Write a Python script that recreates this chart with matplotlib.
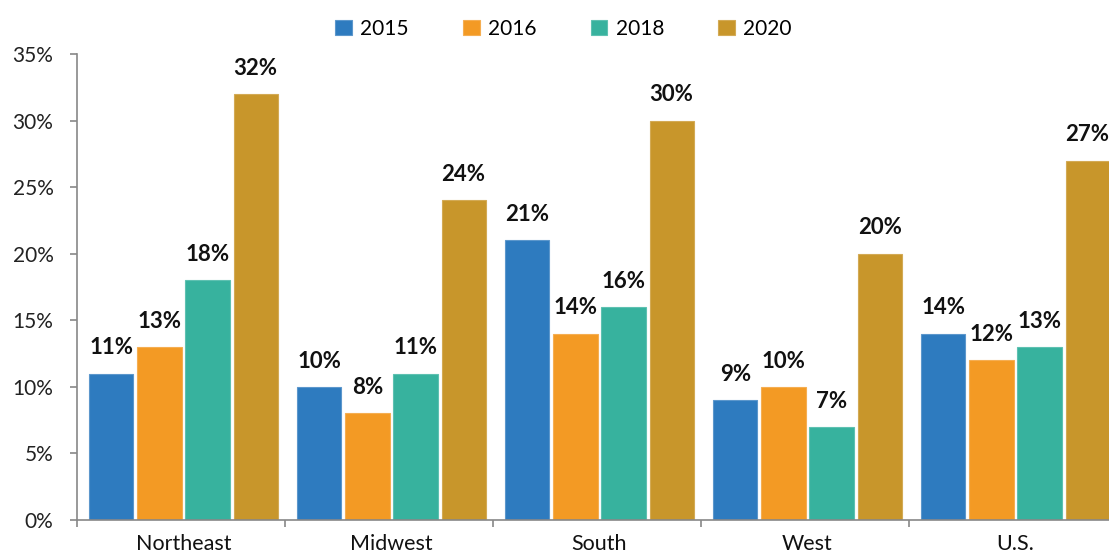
import matplotlib
matplotlib.use("Agg")
import matplotlib.pyplot as plt
import numpy as np

categories = ["Northeast", "Midwest", "South", "West", "U.S."]
years = ["2015", "2016", "2018", "2020"]
v2015 = [11, 10, 21, 9, 14]
v2016 = [13, 8, 14, 10, 12]
v2018 = [18, 11, 16, 7, 13]
v2020 = [32, 24, 30, 20, 27]
yticks = [0, 5, 10, 15, 20, 25, 30, 35]

series = [v2015, v2016, v2018, v2020]
colors = ["#2E7BBF", "#F39A24", "#37B29E", "#C8962B"]
edges = ["#5C97CC", "#F5AE52", "#5EC1B1", "#D3AA55"]

plt.rcParams['font.family'] = ['Lato', 'DejaVu Sans']

fig = plt.figure(figsize=(11.09, 5.56), dpi=100)
ax = fig.add_axes([77/1109, 36/556, 1040/1109, 466/556])

x = np.arange(len(categories))
step = 0.231
width = 0.212
shift = 0.012
for j, (vals, c, ec, yr) in enumerate(zip(series, colors, edges, years)):
    pos = x + (j - 1.5) * step + shift
    bars = ax.bar(pos, vals, width, color=c, edgecolor=ec, linewidth=0.8, label=yr)
    for b, v in zip(bars, vals):
        ax.annotate(f"{v}%", (b.get_x() + b.get_width()/2, v),
                    xytext=(0, 11), textcoords="offset points",
                    ha="center", va="bottom", fontsize=16, fontweight="bold",
                    color="#111111")

ax.set_xlim(-0.5, len(categories) - 0.5)
ax.set_ylim(0, 35)
ax.set_yticks(yticks)
ax.set_yticklabels([f"{t}%" for t in yticks], fontsize=15, color="#222222")
ax.set_xticks(np.arange(len(categories) + 1) - 0.5)
ax.set_xticklabels([])
ax.set_xticks(x + shift, minor=True)
ax.set_xticklabels(categories, minor=True, fontsize=15.5, color="#111111")
ax.tick_params(axis='x', which='minor', length=0, pad=10)
ax.tick_params(axis='x', which='major', length=5, color="#888888", width=1.2)
ax.tick_params(axis='y', length=5, color="#888888", width=1.2, pad=12)

for s in ["top", "right"]:
    ax.spines[s].set_visible(False)
for s in ["left", "bottom"]:
    ax.spines[s].set_color("#888888")
    ax.spines[s].set_linewidth(1.2)

leg = fig.legend(loc="upper center", bbox_to_anchor=(0.508, 1.0), ncol=4,
                 frameon=False, fontsize=15, handlelength=0.8, handleheight=0.8,
                 handletextpad=0.4, columnspacing=2.6)

fig.savefig("out.png", dpi=100)
